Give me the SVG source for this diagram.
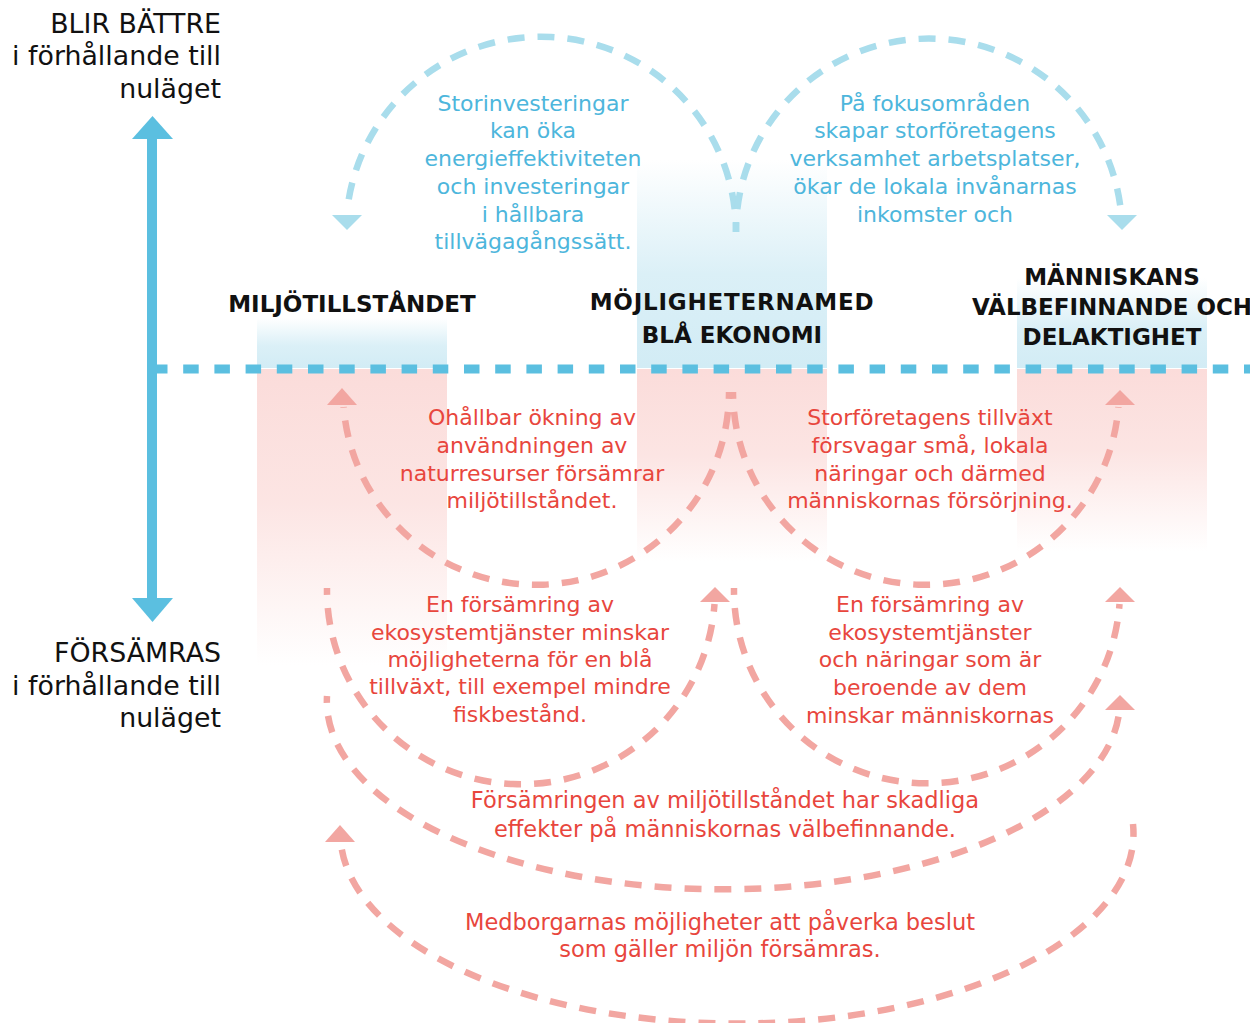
<svg xmlns="http://www.w3.org/2000/svg" width="1250" height="1023" viewBox="0 0 1250 1023">
  <style>
    .lbl { font-family: "DejaVu Sans", "Open Sans", sans-serif; font-size: 26.8px; fill: #111; text-anchor: end; }
    .head { font-family: "DejaVu Sans", "Open Sans", sans-serif; font-size: 23px; font-weight: bold; fill: #111; text-anchor: middle; }
    .bt { font-family: "DejaVu Sans", "Open Sans", sans-serif; font-size: 22px; fill: #4db6dc; text-anchor: middle; }
    .rt { font-family: "DejaVu Sans", "Open Sans", sans-serif; font-size: 22px; fill: #e8463d; text-anchor: middle; }
    .rt-wide { font-size: 22.5px; }
    .arc-b { fill: none; stroke: #a9ddec; stroke-width: 6.5; stroke-dasharray: 17 13; }
    .arc-r { fill: none; stroke: #f2a6a1; stroke-width: 6.5; stroke-dasharray: 17 13; }
    .head-b { fill: #a9ddec; }
    .head-r { fill: #f2a6a1; }
  </style>
  <defs>
    <linearGradient id="blueFade" x1="0" y1="0" x2="0" y2="1">
      <stop offset="0" stop-color="#d2ecf5" stop-opacity="0"/>
      <stop offset="0.55" stop-color="#d2ecf5" stop-opacity="0.8"/>
      <stop offset="1" stop-color="#d2ecf5" stop-opacity="1"/>
    </linearGradient>
    <linearGradient id="pinkFade" x1="0" y1="0" x2="0" y2="1">
      <stop offset="0" stop-color="#fbdcda" stop-opacity="1"/>
      <stop offset="0.45" stop-color="#fbdcda" stop-opacity="0.75"/>
      <stop offset="1" stop-color="#fbdcda" stop-opacity="0"/>
    </linearGradient>
  </defs>

  <rect width="1250" height="1023" fill="#ffffff"/>

  <!-- vertical scale: better up, worse down -->
  <g id="axis">
    <rect x="147" y="136" width="10" height="464" fill="#5bbfe0"/>
    <polygon points="132,139 173,139 152.5,116" fill="#5bbfe0"/>
    <polygon points="132,598 173,598 152.5,622" fill="#5bbfe0"/>
    <text class="lbl" x="221" y="33">BLIR BÄTTRE</text>
    <text class="lbl" x="221" y="65">i förhållande till</text>
    <text class="lbl" x="221" y="98">nuläget</text>
    <text class="lbl" x="221" y="662">FÖRSÄMRAS</text>
    <text class="lbl" x="221" y="695">i förhållande till</text>
    <text class="lbl" x="221" y="727">nuläget</text>
  </g>

  <!-- column: environment -->
  <g id="node-miljo">
    <rect x="257" y="318" width="190" height="50" fill="url(#blueFade)"/>
    <rect x="257" y="369" width="190" height="296" fill="url(#pinkFade)"/>
    <text class="head" x="352" y="312">MILJÖTILLSTÅNDET</text>
  </g>

  <!-- column: blue economy -->
  <g id="node-blue-economy">
    <rect x="637" y="160" width="190" height="208" fill="url(#blueFade)"/>
    <rect x="637" y="369" width="190" height="192" fill="url(#pinkFade)"/>
    <text class="head" x="732" y="310" letter-spacing="0.8">MÖJLIGHETERNAMED</text>
    <text class="head" x="732" y="343">BLÅ EKONOMI</text>
  </g>

  <!-- column: human wellbeing -->
  <g id="node-wellbeing">
    <rect x="1017" y="278" width="190" height="90" fill="url(#blueFade)"/>
    <rect x="1017" y="369" width="190" height="182" fill="url(#pinkFade)"/>
    <text class="head" x="1112" y="285">MÄNNISKANS</text>
    <text class="head" x="1112" y="315">VÄLBEFINNANDE OCH</text>
    <text class="head" x="1112" y="345">DELAKTIGHET</text>
  </g>

  <!-- present-state baseline -->
  <line x1="152" y1="369" x2="1250" y2="369" stroke="#5bbfe0" stroke-width="9" stroke-dasharray="15.5 15.7"/>

  <g id="connectors">
    <!-- positive effects (above baseline) -->
    <path class="arc-b" stroke-dashoffset="7" d="M736 232 A195 195 0 0 0 347 212"/>
    <polygon class="head-b" points="332,215 362,215 347,230"/>
    <path class="arc-b" stroke-dashoffset="7" d="M736 232 A193 193 0 0 1 1121 212"/>
    <polygon class="head-b" points="1107,215 1137,215 1122,230"/>

    <!-- negative effects (below baseline) -->
    <path class="arc-r" stroke-dashoffset="10" d="M729 392 A193 193 0 0 1 343.6 407"/>
    <polygon class="head-r" points="327,405 357,405 342,388"/>
    <path class="arc-r" stroke-dashoffset="10" d="M733 392 A193 193 0 0 0 1118.4 407"/>
    <polygon class="head-r" points="1105,405 1135,405 1120,390"/>

    <path class="arc-r" stroke-dashoffset="10" d="M327 588 A194 194 0 0 0 714.5 604"/>
    <polygon class="head-r" points="700,602 730,602 715,587"/>
    <path class="arc-r" stroke-dashoffset="10" d="M734 588 A193 193 0 0 0 1119.5 604"/>
    <polygon class="head-r" points="1105,602 1135,602 1120,587"/>

    <path class="arc-r" stroke-dashoffset="10" d="M327 696 A396.5 188 0 0 0 1119.2 712"/>
    <polygon class="head-r" points="1105,710 1135,710 1120,695"/>

    <path class="arc-r" stroke-dashoffset="4" d="M1133 824 A396.5 190 0 0 1 340.9 843"/>
    <polygon class="head-r" points="325,842 355,842 340,825"/>
  </g>

  <g id="connector-labels">
    <text class="bt" x="533" y="111">Storinvesteringar</text>
    <text class="bt" x="533" y="138">kan öka</text>
    <text class="bt" x="533" y="166">energieffektiviteten</text>
    <text class="bt" x="533" y="194">och investeringar</text>
    <text class="bt" x="533" y="222">i hållbara</text>
    <text class="bt" x="533" y="249">tillvägagångssätt.</text>

    <text class="bt" x="935" y="111">På fokusområden</text>
    <text class="bt" x="935" y="138">skapar storföretagens</text>
    <text class="bt" x="935" y="166">verksamhet arbetsplatser,</text>
    <text class="bt" x="935" y="194">ökar de lokala invånarnas</text>
    <text class="bt" x="935" y="222">inkomster och</text>

    <text class="rt" x="532" y="425">Ohållbar ökning av</text>
    <text class="rt" x="532" y="453">användningen av</text>
    <text class="rt" x="532" y="481">naturresurser försämrar</text>
    <text class="rt" x="532" y="508">miljötillståndet.</text>

    <text class="rt" x="930" y="425">Storföretagens tillväxt</text>
    <text class="rt" x="930" y="453">försvagar små, lokala</text>
    <text class="rt" x="930" y="481">näringar och därmed</text>
    <text class="rt" x="930" y="508">människornas försörjning.</text>

    <text class="rt" x="520" y="612">En försämring av</text>
    <text class="rt" x="520" y="640">ekosystemtjänster minskar</text>
    <text class="rt" x="520" y="667">möjligheterna för en blå</text>
    <text class="rt" x="520" y="694">tillväxt, till exempel mindre</text>
    <text class="rt" x="520" y="722">fiskbestånd.</text>

    <text class="rt" x="930" y="612">En försämring av</text>
    <text class="rt" x="930" y="640">ekosystemtjänster</text>
    <text class="rt" x="930" y="667">och näringar som är</text>
    <text class="rt" x="930" y="695">beroende av dem</text>
    <text class="rt" x="930" y="723">minskar människornas</text>

    <text class="rt rt-wide" x="725" y="808">Försämringen av miljötillståndet har skadliga</text>
    <text class="rt rt-wide" x="725" y="837">effekter på människornas välbefinnande.</text>

    <text class="rt rt-wide" x="720" y="930">Medborgarnas möjligheter att påverka beslut</text>
    <text class="rt rt-wide" x="720" y="957">som gäller miljön försämras.</text>
  </g>
</svg>
